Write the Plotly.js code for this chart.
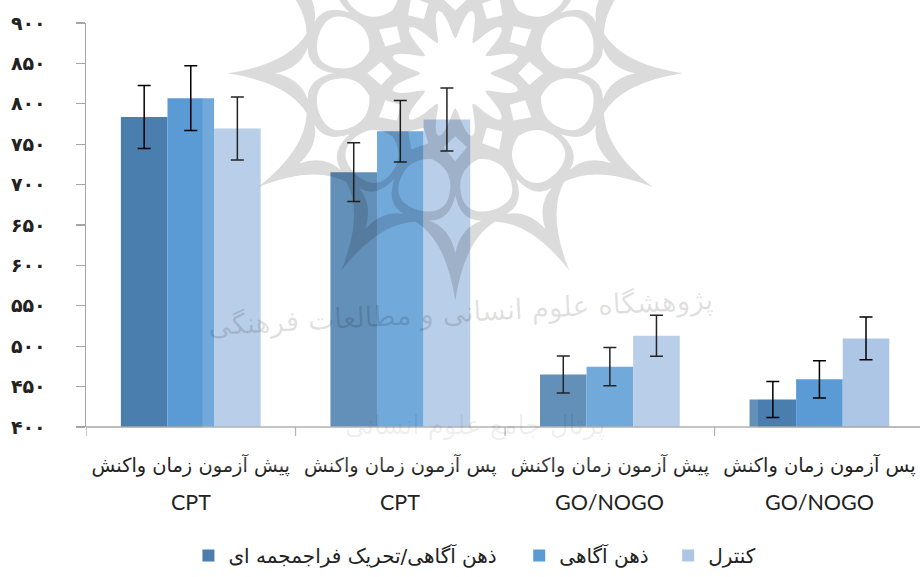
<!DOCTYPE html>
<html><head><meta charset="utf-8">
<script src="https://cdn.plot.ly/plotly-3.0.1.min.js"></script>
<style>html,body{margin:0;padding:0;background:#fff}#c{width:920px;height:577px}</style></head>
<body><div id="c"></div>
<script>
const categories = ['پیش آزمون زمان واکنش','پس آزمون زمان واکنش','پیش آزمون زمان واکنش','پس آزمون زمان واکنش'];
const tasks = ['CPT','CPT','GO/NOGO','GO/NOGO'];
const seriesNames = ['ذهن آگاهی/تحریک فراجمجمه ای','ذهن آگاهی','کنترل'];
const combined = [783.7, 715.4, 465, 434];
const mindful  = [807, 766, 474.7, 459];
const control  = [769.4, 780.5, 513, 509.6];
const combinedErr = [39, 36.4, 23, 22.2];
const mindfulErr  = [40, 38, 23.6, 23];
const controlErr  = [39, 39, 25.3, 26.4];
const yTickVals = [400,450,500,550,600,650,700,750,800,850,900];
const yTickText = ['۴۰۰','۴۵۰','۵۰۰','۵۵۰','۶۰۰','۶۵۰','۷۰۰','۷۵۰','۸۰۰','۸۵۰','۹۰۰'];
const colors = ['#4a7eae','#5b9bd5','#aec6e6'];
const watermarkTop = 'پژوهشگاه علوم انسانی و مطالعات فرهنگی';
const watermarkBottom = 'پرتال جامع علوم انسانی';

const W=920,H=577,L=85.5,T=22.5,PW=W-L,PH=405;
const px=x=>((x-L)/PW).toFixed(5);
const py=y=>(1-(y-T)/PH).toFixed(5);
const P=(x,y)=>px(x)+','+py(y);

// decorative background rosette (watermark)
const cx=455,cy=73;
const pol=(r,deg)=>{const a=deg*Math.PI/180;return [cx+r*Math.cos(a),cy+r*Math.sin(a)];};
const at=(r,d)=>{const p=pol(r,d);return P(p[0],p[1]);};
function rosette(){
  let d='';
  for(let k=0;k<12;k++){
    const a=30*k;
    d+=(k?'L':'M')+at(228,a);
    d+='Q'+at(168,a+3)+' '+at(154,a+15);
    d+='Q'+at(168,a+27)+' '+at(228,a+30);
  }
  d+='Z';
  for(let i=0;i<=144;i++){
    const a=i*2.5;
    const r=50+15*Math.cos(12*(a-15)*Math.PI/180);
    d+=(i?'L':'M')+at(r,a);
  }
  d+='Z';
  for(let k=0;k<12;k++){
    const a=30*k;
    const c=a+15,R=116;
    d+='M'+at(R-27,c)+'Q'+at(R-20,c+13)+' '+at(R,c+12.5)+'Q'+at(R+28,c+12)+' '+at(R+26,c)+'Q'+at(R+28,c-12)+' '+at(R,c-12.5)+'Q'+at(R-20,c-13)+' '+at(R-27,c)+'Z';
    d+='M'+at(63,a)+'L'+at(75,a+9)+'L'+at(88,a)+'L'+at(75,a-9)+'Z';
    d+='M'+at(122,a)+'Q'+at(148,a+2)+' '+at(150,a+10)+'Q'+at(155,a+2)+' '+at(180,a)+'Q'+at(155,a-2)+' '+at(150,a-10)+'Q'+at(148,a-2)+' '+at(122,a)+'Z';
  }
  return d;
}

const legendKeys=['legend','legend2','legend3'];
const mk=(i,y,e)=>({type:'bar',name:seriesNames[i],x:[0,1,2,3],y:y,legend:legendKeys[i],
  marker:{color:colors[i],line:{width:0}},
  error_y:{type:'data',array:e,visible:true,color:'#000',thickness:1.5,width:6.5}});
const data=[mk(0,combined,combinedErr),mk(1,mindful,mindfulErr),mk(2,control,controlErr)];
const leg=(xp)=>({orientation:'h',x:px(xp),xanchor:'left',y:-0.27,yanchor:'top',
  font:{size:20,family:'"DejaVu Sans"',color:'#222'},itemwidth:30,bgcolor:'rgba(0,0,0,0)'});

const layout={
  width:W,height:H,margin:{l:L,r:0,t:T,b:H-T-PH,pad:0},
  paper_bgcolor:'#fff',plot_bgcolor:'#fff',
  barmode:'group',bargap:0.333,bargroupgap:0,showlegend:true,
  font:{family:'"DejaVu Sans"',color:'#222'},
  xaxis:{type:'linear',range:[-0.5,3.48],tickmode:'array',tickvals:[0,1,2,3],ticktext:categories,
    ticks:'',showgrid:false,zeroline:false,showline:false,
    tickfont:{size:19.4,family:'"DejaVu Sans"',color:'#222'},ticklabelstandoff:25},
  yaxis:{range:[400,900],tickmode:'array',tickvals:yTickVals,ticktext:yTickText,
    ticks:'outside',ticklen:9,tickwidth:1.2,tickcolor:'#a6a6a6',showgrid:false,zeroline:false,
    showline:true,linecolor:'#a6a6a6',linewidth:1.5,
    tickfont:{size:19,family:'"DejaVu Sans"',weight:700,color:'#222'},ticklabelstandoff:26},
  legend:leg(188),legend2:leg(519),legend3:leg(668),
  shapes:[
    {type:'line',xref:'x',yref:'paper',x0:-0.5,x1:3.48,y0:0,y1:0,line:{color:'#a6a6a6',width:1.5},layer:'above'},
    ...[-0.5,0.5,1.5,2.5].map(v=>({type:'line',xref:'x',yref:'paper',x0:v,x1:v,y0:0,y1:-9/PH,line:{color:'#a6a6a6',width:1.2},layer:'above'})),
    {type:'rect',xref:'paper',yref:'paper',x0:px(202),x1:px(758),y0:py(470),y1:py(0),fillcolor:'rgba(255,255,255,0.14)',line:{width:0},layer:'above'},
    {type:'path',xref:'paper',yref:'paper',path:rosette(),fillcolor:'rgba(0,0,0,0.14)',line:{width:0},fillrule:'evenodd',layer:'above'}
  ],
  annotations:[
    ...tasks.map((t,i)=>({text:t,xref:'x',x:i,yref:'paper',y:py(503),yanchor:'middle',showarrow:false,
      font:{size:21.5,family:'Lato',color:'#222'}})),
    {text:watermarkTop,xref:'paper',yref:'paper',x:px(460),y:py(345),showarrow:false,textangle:-3,
      font:{size:28,family:'"DejaVu Sans"',color:'rgba(0,0,0,0.12)'}},
    {text:watermarkBottom,xref:'paper',yref:'paper',x:px(475),y:py(444),showarrow:false,
      font:{size:26,family:'"DejaVu Sans"',color:'rgba(0,0,0,0.07)'}}
  ]
};
Plotly.newPlot('c',data,layout,{displayModeBar:false,staticPlot:true});
</script></body></html>
